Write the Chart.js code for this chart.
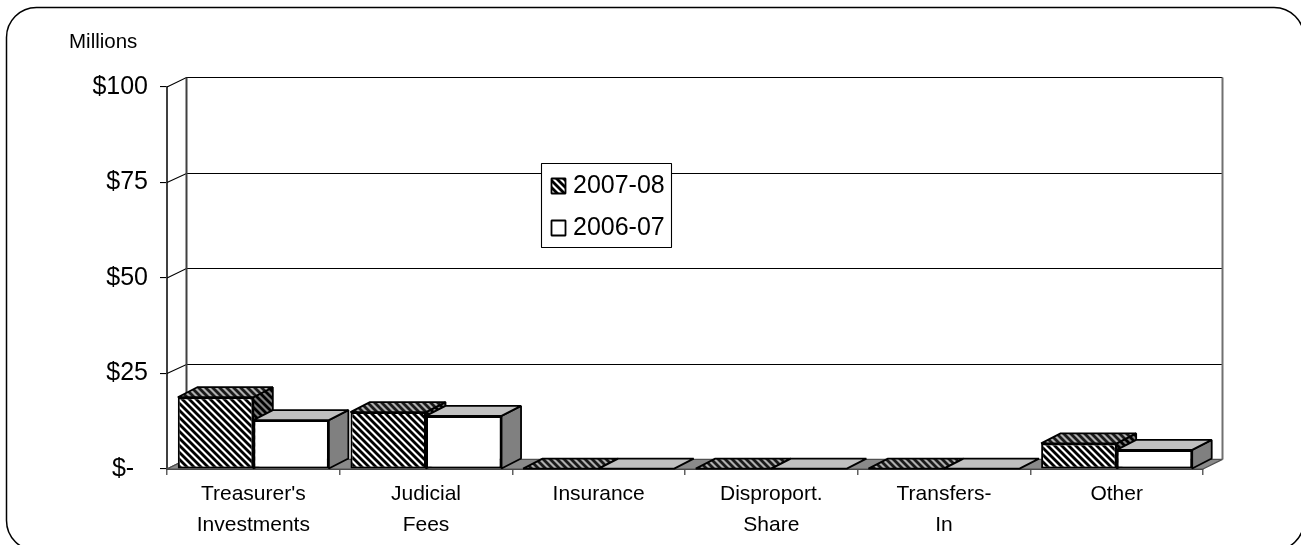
<!DOCTYPE html>
<html>
<head>
<meta charset="utf-8">
<title>Revenue by source</title>
<style>
    html, body { margin: 0; padding: 0; background: #fff; overflow: hidden; }
    #chartBox { width: 1301px; height: 545px; }
</style>
<script src="https://cdn.jsdelivr.net/npm/chart.js@4/dist/chart.umd.min.js"></script>
</head>
<body>
<div id="chartBox"><canvas id="revenueChart" width="1301" height="545"></canvas></div>
<script>
const categories = [["Treasurer's", "Investments"], ["Judicial", "Fees"], ["Insurance"], ["Disproport.", "Share"], ["Transfers-", "In"], ["Other"]];
const seriesNames = ["2007-08", "2006-07"];
const values2007 = [18.8, 14.9, 0.1, 0.1, 0.1, 6.7];
const values2006 = [12.8, 13.9, 0.1, 0.1, 0.1, 5.0];
const yTicks = [0, 25, 50, 75, 100];
const unitLabel = "Millions";

const FONT = "'Liberation Sans', Arial, sans-serif";
// how far the back wall sits from the front plane
const depthX = 19.5;
const depthY = 9.6;
const barDepthY = 10;

// diagonal stripes, tile is one stripe period
function makeHatch(light, dark) {
    let tile = document.createElement("canvas");
    tile.width = 7;
    tile.height = 7;
    let c = tile.getContext("2d");
    c.fillStyle = light;
    c.fillRect(0, 0, 7, 7);
    c.strokeStyle = dark;
    c.lineWidth = 2.8;
    for (let i = -7; i <= 7; i += 7) {
        c.beginPath();
        c.moveTo(i - 1, -1);
        c.lineTo(i + 8, 8);
        c.stroke();
    }
    return document.getElementById("revenueChart").getContext("2d").createPattern(tile, "repeat");
}

const hatchFront = makeHatch("#ffffff", "#000000");
const hatchTop = makeHatch("#b0b0b0", "#1a1a1a");
const hatchSide = makeHatch("#808080", "#000000");

function poly(ctx, pts, fill, stroke, width) {
    ctx.beginPath();
    ctx.moveTo(pts[0][0], pts[0][1]);
    for (let i = 1; i < pts.length; i++) ctx.lineTo(pts[i][0], pts[i][1]);
    ctx.closePath();
    if (fill) {
        ctx.fillStyle = fill;
        ctx.fill();
    }
    if (stroke) {
        ctx.strokeStyle = stroke;
        ctx.lineWidth = width;
        ctx.lineJoin = "bevel";
        ctx.stroke();
    }
}

function roundFrame(ctx) {
    ctx.save();
    ctx.strokeStyle = "#000";
    ctx.lineWidth = 1.5;
    ctx.beginPath();
    ctx.roundRect(6.5, 7.5, 1297.5, 543, 30);
    ctx.stroke();
    ctx.restore();
}

// top and side faces of one series
function drawFaces(ctx, meta, hatched) {
    meta.data.forEach(function (bar) {
        let left = bar.x - bar.width / 2;
        let right = bar.x + bar.width / 2;
        let top = bar.y;
        let base = bar.base;
        if (base - top > 2) {
            poly(ctx, [[right, top], [right + depthX, top - barDepthY], [right + depthX, base - barDepthY], [right, base]],
                hatched ? hatchSide : "#808080", "#000", 1.8);
        }
        poly(ctx, [[left, top], [right, top], [right + depthX, top - barDepthY], [left + depthX, top - barDepthY]],
            hatched ? hatchTop : "#c0c0c0", "#000", 1.8);
    });
}

// the frame, walls, floor and back gridlines
const wallsPlugin = {
    id: "walls",
    beforeDatasetsDraw(chart) {
        let ctx = chart.ctx;
        let a = chart.chartArea;
        let y = chart.scales.y;
        ctx.save();
        roundFrame(ctx);

        ctx.lineWidth = 1.1;
        ctx.strokeStyle = "#000";
        yTicks.forEach(function (t) {
            let py = y.getPixelForValue(t);
            let backY = Math.round(py - depthY) + 0.5;
            ctx.beginPath();
            ctx.moveTo(a.left, py);
            ctx.lineTo(a.left + depthX, backY);
            if (t > 0) ctx.lineTo(a.right + depthX, backY);
            ctx.stroke();
        });

        let topY = Math.round(y.getPixelForValue(100) - depthY) + 0.5;
        let botY = Math.round(y.getPixelForValue(0) - depthY) + 0.5;
        ctx.lineWidth = 2;
        ctx.strokeStyle = "#404040";
        ctx.beginPath();
        ctx.moveTo(a.left + depthX, topY);
        ctx.lineTo(a.left + depthX, botY);
        ctx.stroke();
        ctx.strokeStyle = "#707070";
        ctx.beginPath();
        ctx.moveTo(a.right + depthX, topY);
        ctx.lineTo(a.right + depthX, botY);
        ctx.stroke();

        poly(ctx, [[a.left, a.bottom], [a.right, a.bottom], [a.right + depthX, a.bottom - depthY], [a.left + depthX, a.bottom - depthY]], "#8a8a8a", "#505050", 1.2);

        // first series goes behind the front of the second one
        drawFaces(ctx, chart.getDatasetMeta(0), true);
        ctx.restore();
    },
    afterDatasetDraw(chart, args) {
        if (args.index !== 1) return;
        chart.ctx.save();
        drawFaces(chart.ctx, args.meta, false);
        chart.ctx.restore();
    },
    afterDraw(chart) {
        let ctx = chart.ctx;
        ctx.save();
        ctx.fillStyle = "#000";
        ctx.textBaseline = "middle";
        ctx.font = "20.5px " + FONT;
        ctx.fillText(unitLabel, 69, 42);

        // legend box sits on top of the gridlines
        poly(ctx, [[541.5, 163.5], [671.5, 163.5], [671.5, 247.5], [541.5, 247.5]], "#fff", "#000", 1.1);
        seriesNames.forEach(function (name, i) {
            let rowY = 186 + i * 42;
            poly(ctx, [[551.5, rowY - 7.5], [565.5, rowY - 7.5], [565.5, rowY + 7.5], [551.5, rowY + 7.5]],
                i === 0 ? hatchFront : "#fff", "#000", 1.8);
            ctx.fillStyle = "#000";
            ctx.font = "25px " + FONT;
            ctx.fillText(name, 573, rowY);
        });
        ctx.restore();
    }
};

new Chart(document.getElementById("revenueChart").getContext("2d"), {
    type: "bar",
    data: {
        labels: categories,
        datasets: [
            { label: seriesNames[0], data: values2007, backgroundColor: hatchFront, borderColor: "#000", borderWidth: 2, borderSkipped: false },
            { label: seriesNames[1], data: values2006, backgroundColor: "#fff", borderColor: "#000", borderWidth: 2, borderSkipped: false }
        ]
    },
    options: {
        responsive: false,
        animation: false,
        layout: { padding: { left: 0, right: 98, top: 87, bottom: 0 } },
        datasets: { bar: { categoryPercentage: 0.875, barPercentage: 1 } },
        plugins: {
            legend: { display: false },
            tooltip: { enabled: false }
        },
        scales: {
            x: {
                afterFit: function (scale) { scale.height = 76; },
                border: { color: "#404040", width: 2 },
                grid: { drawOnChartArea: false, tickLength: 6, color: "#606060", lineWidth: 1.5, offset: true },
                ticks: {
                    color: "#000",
                    maxRotation: 0,
                    padding: 4,
                    font: { family: FONT, size: 21, lineHeight: 1.48 }
                }
            },
            y: {
                min: 0,
                max: 100,
                afterFit: function (scale) { scale.width = 167; },
                afterBuildTicks: function (scale) { scale.ticks = yTicks.map(function (v) { return { value: v }; }); },
                border: { color: "#404040", width: 2 },
                grid: { drawOnChartArea: false, tickLength: 7, color: "#000", lineWidth: 1.1 },
                ticks: {
                    color: "#000",
                    padding: 12,
                    font: { family: FONT, size: 25 },
                    callback: function (v) { return v === 0 ? "$-  " : "$" + v; }
                }
            }
        }
    },
    plugins: [wallsPlugin]
});
</script>
</body>
</html>
